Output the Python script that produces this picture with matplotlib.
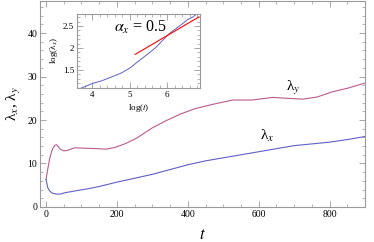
import numpy as np
import matplotlib.pyplot as plt
from matplotlib.ticker import MultipleLocator

plt.rcParams['font.family'] = ['Liberation Serif', 'DejaVu Serif']
plt.rcParams['mathtext.fontset'] = 'stix'

# data
t_x = [0, 5, 10, 15, 20, 30, 40, 55, 70, 90, 120, 150, 200, 250, 300, 350,
       400, 450, 500, 550, 600, 650, 700, 750, 800, 850, 900]
lam_x = [6.3, 4.4, 3.7, 3.3, 3.1, 2.95, 2.95, 3.3, 3.5, 3.8, 4.2, 4.7, 5.7,
         6.6, 7.5, 8.6, 9.7, 10.6, 11.3, 12.0, 12.7, 13.4, 14.1, 14.5, 14.9,
         15.5, 16.2]

t_y = [0, 5, 10, 15, 20, 25, 30, 40, 50, 60, 80, 115, 145, 170, 195, 225,
       255, 300, 340, 380, 420, 470, 527, 580, 640, 680, 724, 765, 808, 850,
       900]
lam_y = [6.3, 8.8, 11.0, 12.6, 13.6, 14.2, 14.3, 13.3, 12.9, 13.0, 13.6,
         13.5, 13.4, 13.3, 13.7, 14.6, 15.8, 18.2, 19.9, 21.4, 22.6, 23.6,
         24.6, 24.6, 25.2, 25.0, 24.8, 25.3, 26.5, 27.3, 28.5]

fit_logt = [5.15, 6.85]
fit_logl = [1.855, 2.705]

blue = '#5f5fc8'
purple = '#bb5a8e'
frame = '#999999'


def style_frame(ax, size):
    for s in ax.spines.values():
        s.set_color(frame)
        s.set_linewidth(0.8)
    ax.tick_params(which='both', direction='in', top=True, right=True,
                   color=frame, labelsize=size, pad=2)
    ax.tick_params(which='major', length=4, width=0.6)
    ax.tick_params(which='minor', length=2, width=0.5)


fig = plt.figure(figsize=(3.74, 2.42), dpi=100)
ax = fig.add_axes([0.107, 0.145, 0.869, 0.851])
ax.plot(t_y, lam_y, color=purple, lw=0.8)
ax.plot(t_x, lam_x, color=blue, lw=0.8)
ax.set_xlim(-17, 900)
ax.set_ylim(0, 47.4)
ax.xaxis.set_major_locator(MultipleLocator(200))
ax.xaxis.set_minor_locator(MultipleLocator(50))
ax.yaxis.set_major_locator(MultipleLocator(10))
ax.yaxis.set_minor_locator(MultipleLocator(2))
style_frame(ax, 7)
ax.set_xlabel('$t$', fontsize=12, labelpad=6)
ax.set_ylabel('λ$_x$, λ$_y$', fontsize=11, labelpad=3)
ax.text(696, 27.3, 'λ$_y$', fontsize=11, ha='center', va='center')
ax.text(625, 16.3, 'λ$_x$', fontsize=11, ha='center', va='center')

ins = fig.add_axes([0.206, 0.636, 0.329, 0.306])
ins.plot(np.log(t_x[5:]), np.log(lam_x[5:]), color=blue, lw=0.7)
ins.plot(fit_logt, fit_logl, color='red', lw=0.8)
ins.set_xlim(3.6, 6.88)
ins.set_ylim(1.09, 2.77)
ins.xaxis.set_major_locator(MultipleLocator(1))
ins.xaxis.set_minor_locator(MultipleLocator(0.2))
ins.yaxis.set_major_locator(MultipleLocator(0.5))
ins.yaxis.set_minor_locator(MultipleLocator(0.1))
ins.set_yticks([1.5, 2, 2.5])
ins.set_yticklabels(['1.5', '2', '2.5'])
style_frame(ins, 6.5)
ins.set_xlabel('log($t$)', fontsize=6.5, labelpad=2)
ins.set_ylabel('log(λ$_x$)', fontsize=6.5, labelpad=2)
ins.text(0.3, 0.82, r'$\alpha_x$ = 0.5', transform=ins.transAxes,
         fontsize=11.5, ha='left', va='center')

fig.savefig('out.png', dpi=100)
